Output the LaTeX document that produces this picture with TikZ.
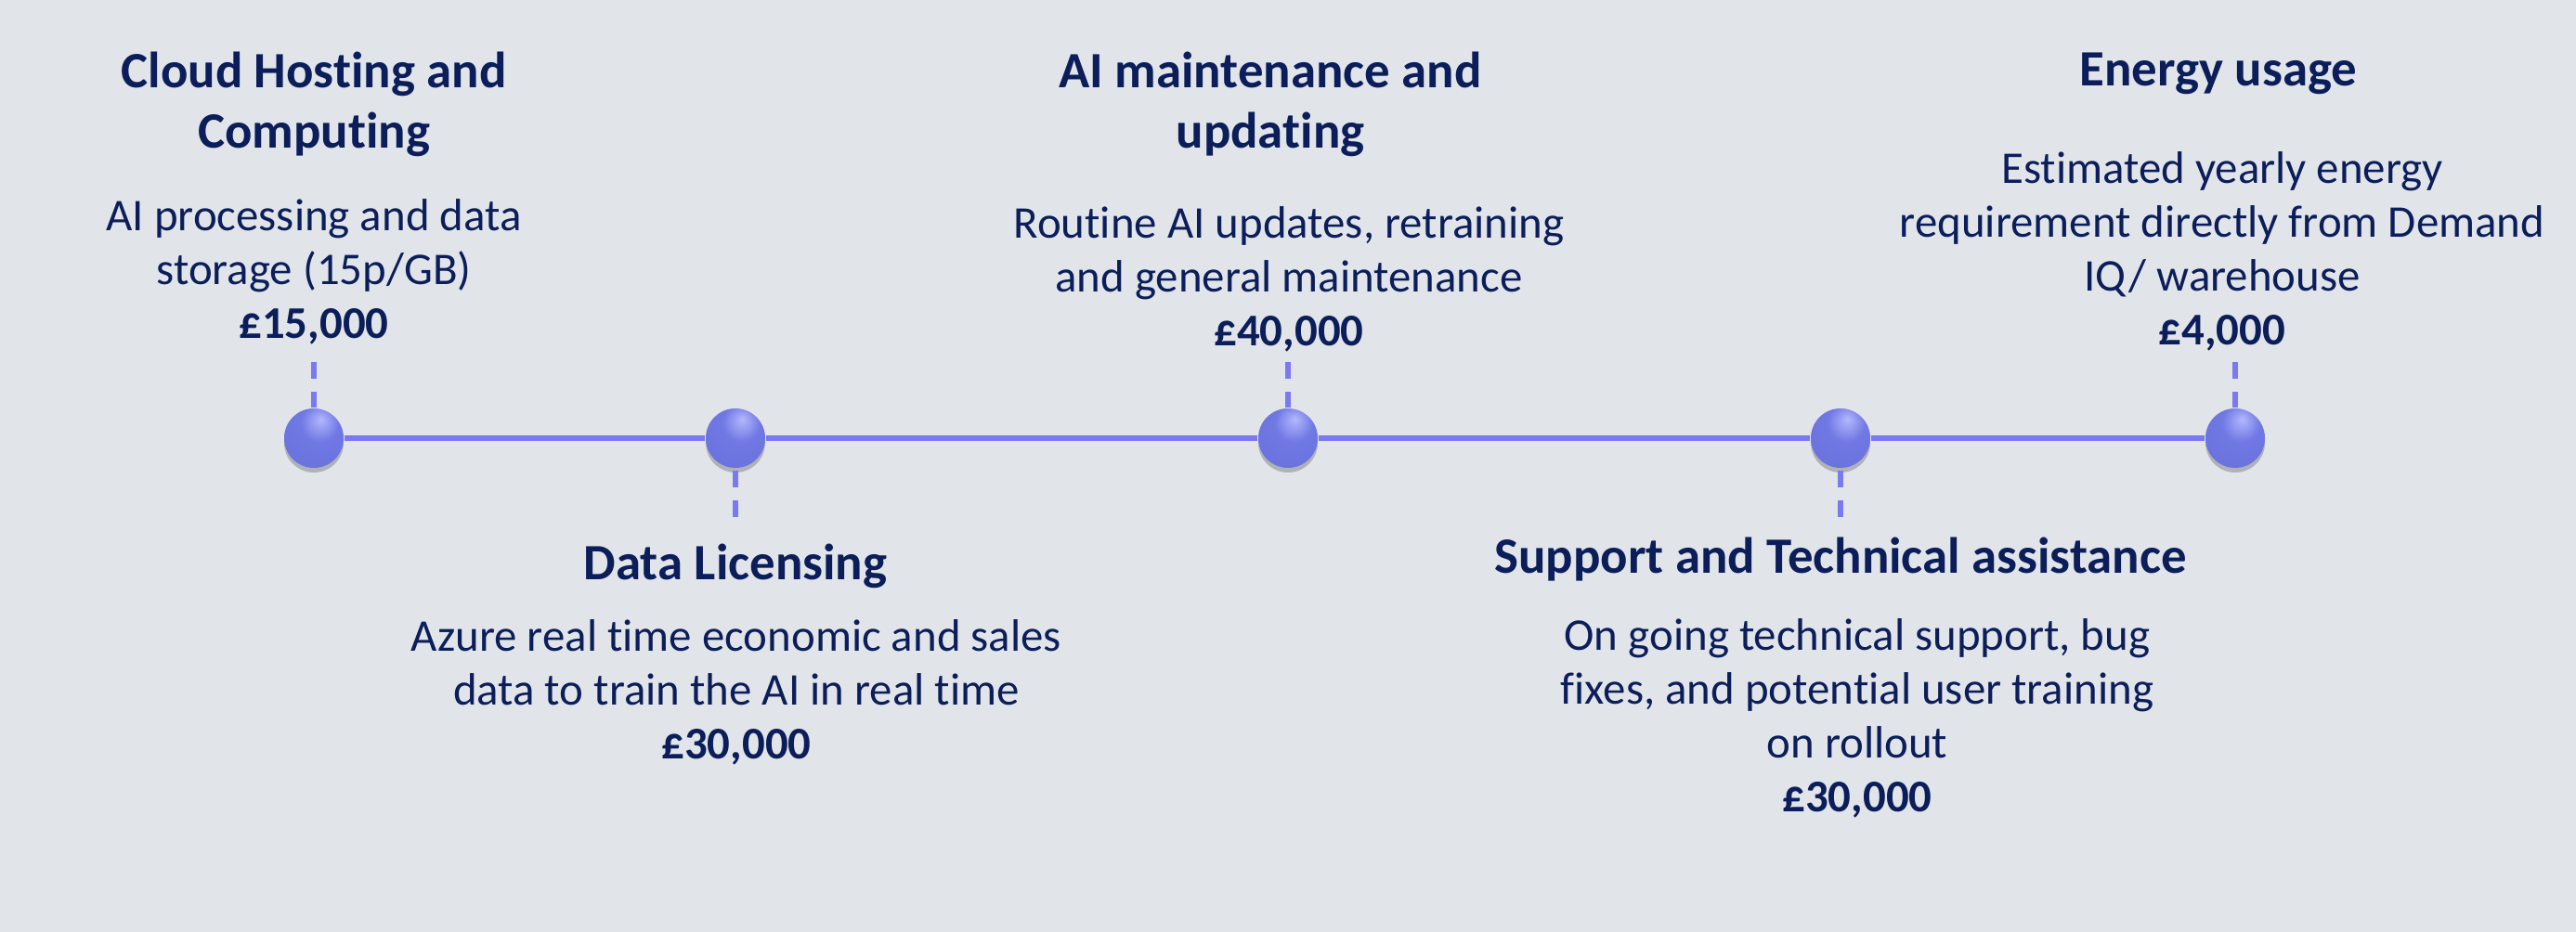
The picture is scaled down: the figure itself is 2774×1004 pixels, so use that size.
\documentclass[tikz,border=0pt]{standalone}
\usepackage{fontspec}
\setmainfont{Carlito}[Ligatures=NoCommon]
\usetikzlibrary{positioning,shadows}
\definecolor{pagegray}{RGB}{225,229,234}
\definecolor{navy}{RGB}{12,30,90}
\definecolor{lineblue}{RGB}{123,121,240}
\definecolor{beadlight}{RGB}{178,184,252}
\definecolor{beadmid}{RGB}{112,120,228}
\definecolor{beaddark}{RGB}{72,78,178}
\pgfdeclareradialshading{beadshade}{\pgfpoint{6bp}{16bp}}{%
  color(0bp)=(beadlight); color(16bp)=(beadmid); color(38bp)=(beadmid!85!beaddark);
  color(58bp)=(beaddark); color(80bp)=(beaddark)}

\begin{document}
\begin{tikzpicture}[
    x=0.01cm, y=-0.01cm,
    bead/.style={circle, minimum size=0.64cm, inner sep=0pt, shading=beadshade,
        drop shadow={shadow xshift=0pt, shadow yshift=-0.05cm, opacity=0.22, fill=black}},
    heading/.style={anchor=base, align=center, text=navy, inner sep=0pt, font=\fontsize{15.6}{18.5}\selectfont\bfseries},
    desc/.style={anchor=base, align=center, text=navy, inner sep=0pt, font=\fontsize{13.9}{16.5}\selectfont},
    track/.style={lineblue, line width=1.5pt},
    stem/.style={lineblue, line width=1.5pt, dash pattern=on 5.1pt off 4pt}
]
    % Background
    \fill[pagegray] (0,0) rectangle (2774,1004);
    \useasboundingbox (0,0) rectangle (2774,1004);

    % Timeline beads
    \node[bead] (cloud) at (338,472) {};
    \node[bead] (licence) at (792,472) {};
    \node[bead] (upkeep) at (1387,472) {};
    \node[bead] (support) at (1982,472) {};
    \node[bead] (energy) at (2407,472) {};

    % Track
    \draw[track] (cloud) -- (licence) -- (upkeep) -- (support) -- (energy);

    % Stems
    \coordinate (cloudend) at (338,390);
    \coordinate (licenceend) at (792,557);
    \coordinate (upkeepend) at (1387,390);
    \coordinate (supportend) at (1982,557);
    \coordinate (energyend) at (2407,390);
    \draw[stem] (cloudend) -- (cloud);
    \draw[stem] (licenceend) -- (licence);
    \draw[stem] (upkeepend) -- (upkeep);
    \draw[stem] (supportend) -- (support);
    \draw[stem] (energyend) -- (energy);

    % Cloud hosting (anchors sit on the last line)
    \node[heading] (cloudhd) at (338,160) {Cloud Hosting and\\Computing};
    \node[desc] (clouddc) at (338,365) {AI processing and data\\storage (15p/GB)\\\textbf{£15,000}};

    % Data licensing
    \node[heading] (licencehd) at (792,625) {Data Licensing};
    \node[desc] (licencedc) at (793,818) {Azure real time economic and sales\\data to train the AI in real time\\\textbf{£30,000}};

    % Maintenance
    \node[heading] (upkeephd) at (1368,160) {AI maintenance and\\updating};
    \node[desc] (upkeepdc) at (1388,373) {Routine AI updates, retraining\\and general maintenance\\\textbf{£40,000}};

    % Support
    \node[heading] (supporthd) at (1982,618) {Support and Technical assistance};
    \node[desc] (supportdc) at (2000,875) {On going technical support, bug\\fixes, and potential user training\\on rollout\\\textbf{£30,000}};

    % Energy
    \node[heading] (energyhd) at (2389,93) {Energy usage};
    \node[desc] (energydc) at (2393,372) {Estimated yearly energy\\requirement directly from Demand\\IQ/ warehouse\\\textbf{£4,000}};
\end{tikzpicture}
\end{document}
